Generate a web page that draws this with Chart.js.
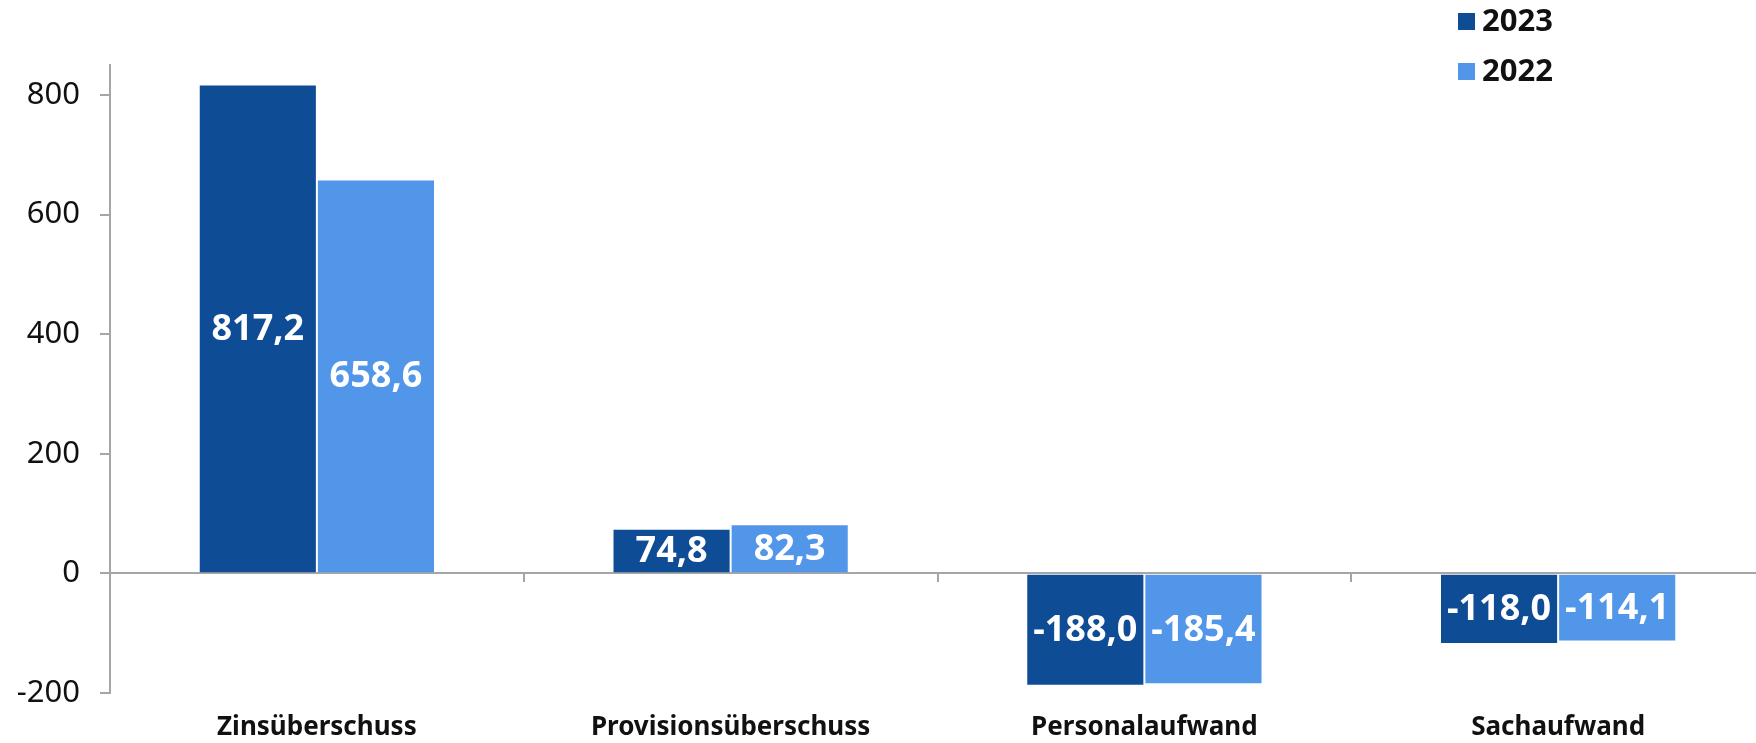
<!DOCTYPE html>
<html lang="de">
<head>
<meta charset="utf-8">
<title>Ertragslage 2023 / 2022</title>
<script src="https://cdn.jsdelivr.net/npm/chart.js@4/dist/chart.umd.min.js"></script>
<style>
    html, body { margin: 0; padding: 0; background: #ffffff; overflow: hidden; }
    #wrap { width: 1756px; height: 743px; position: relative; overflow: hidden; }
</style>
</head>
<body>
<div id="wrap"><canvas id="mainChart" width="1765" height="743"></canvas></div>
<script>
// Data
const categories = ['Zinsüberschuss', 'Provisionsüberschuss', 'Personalaufwand', 'Sachaufwand'];
const seriesNames = ['2023', '2022'];
const values2023 = [817.2, 74.8, -188.0, -118.0];
const values2022 = [658.6, 82.3, -185.4, -114.1];
const yTicks = [-200, 0, 200, 400, 600, 800];

// Colors
const DARK_BLUE = '#0F4C96';
const LIGHT_BLUE = '#5196E8';
const AXIS_GRAY = '#A6A6A6';
const TEXT_COLOR = '#111111';
const FONT = "'Noto Sans', 'DejaVu Sans', sans-serif";

// Format numbers German style (comma as decimal separator)
function formatValue(v) {
    return v.toFixed(1).replace('.', ',');
}

// Value labels centered inside each bar
const barLabelPlugin = {
    id: 'barLabels',
    afterDatasetsDraw(chart) {
        const ctx = chart.ctx;
        ctx.save();
        ctx.font = `bold 36px ${FONT}`;
        ctx.fillStyle = '#ffffff';
        ctx.textAlign = 'center';
        ctx.textBaseline = 'middle';
        chart.data.datasets.forEach((ds, i) => {
            const meta = chart.getDatasetMeta(i);
            meta.data.forEach((bar, j) => {
                const p = bar.getProps(['x', 'y', 'base'], true);
                ctx.fillText(formatValue(ds.data[j]), p.x, (p.y + p.base) / 2 + 1);
            });
        });
        ctx.restore();
    }
};

// Vertical legend in the top right corner
const sideLegendPlugin = {
    id: 'sideLegend',
    afterDraw(chart, args, opts) {
        const ctx = chart.ctx;
        ctx.save();
        ctx.font = `bold 31px ${FONT}`;
        ctx.textAlign = 'left';
        ctx.textBaseline = 'middle';
        chart.data.datasets.forEach((ds, i) => {
            const cy = opts.top + i * opts.rowGap;
            ctx.fillStyle = ds.backgroundColor;
            ctx.fillRect(opts.left, cy - opts.box / 2, opts.box, opts.box);
            ctx.fillStyle = TEXT_COLOR;
            ctx.fillText(ds.label, opts.left + opts.box + 7, cy + 1);
        });
        ctx.restore();
    }
};

function initializeChart() {
    const ctx = document.getElementById('mainChart').getContext('2d');
    new Chart(ctx, {
        type: 'bar',
        data: {
            labels: categories,
            datasets: [
                {
                    label: seriesNames[0],
                    data: values2023,
                    backgroundColor: DARK_BLUE,
                    borderColor: 'rgba(255,255,255,0.45)',
                    borderWidth: 1
                },
                {
                    label: seriesNames[1],
                    data: values2022,
                    backgroundColor: LIGHT_BLUE,
                    borderColor: 'rgba(255,255,255,0.45)',
                    borderWidth: 1
                }
            ]
        },
        options: {
            responsive: false,
            animation: false,
            layout: {
                padding: { top: 65, left: 0, right: 0, bottom: 0 }
            },
            datasets: {
                bar: {
                    categoryPercentage: 0.571,
                    barPercentage: 1
                }
            },
            scales: {
                x: {
                    position: 'bottom',
                    grid: { display: false, drawTicks: false },
                    border: { display: false },
                    ticks: {
                        color: TEXT_COLOR,
                        padding: 19,
                        maxRotation: 0,
                        autoSkip: false,
                        font: { family: FONT, size: 26, weight: 'bold' }
                    },
                    afterFit(scale) { scale.height = 50; }
                },
                x2: {
                    type: 'category',
                    position: { y: 0 },
                    offset: true,
                    grid: {
                        offset: true,
                        drawOnChartArea: false,
                        drawTicks: true,
                        tickLength: 8,
                        color: AXIS_GRAY,
                        lineWidth: 2
                    },
                    border: { display: true, color: AXIS_GRAY, width: 2 },
                    ticks: { display: false }
                },
                y: {
                    min: -200,
                    max: 850,
                    grid: {
                        drawOnChartArea: false,
                        drawTicks: true,
                        tickLength: 10,
                        color: AXIS_GRAY,
                        lineWidth: 2
                    },
                    border: { display: true, color: AXIS_GRAY, width: 2 },
                    ticks: {
                        color: TEXT_COLOR,
                        padding: 20,
                        font: { family: FONT, size: 31 },
                        callback: (v) => String(v)
                    },
                    afterBuildTicks(scale) {
                        scale.ticks = yTicks.map(v => ({ value: v }));
                    },
                    afterFit(scale) { scale.width = 110; }
                }
            },
            plugins: {
                legend: { display: false },
                tooltip: { enabled: false },
                sideLegend: { left: 1458, top: 21.5, rowGap: 50, box: 17 }
            }
        },
        plugins: [barLabelPlugin, sideLegendPlugin]
    });
}

document.addEventListener('DOMContentLoaded', initializeChart);
</script>
</body>
</html>
